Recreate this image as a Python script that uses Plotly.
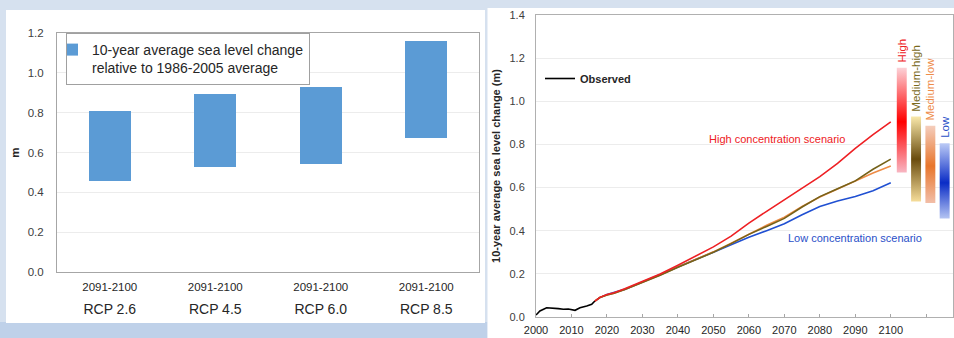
import plotly.graph_objects as go

W, H = 954, 338

# ---------------- data: left panel ----------------
rcp_names = ["RCP 2.6", "RCP 4.5", "RCP 6.0", "RCP 8.5"]
rcp_period = ["2091-2100", "2091-2100", "2091-2100", "2091-2100"]
rcp_low = [0.455, 0.527, 0.541, 0.674]
rcp_high = [0.808, 0.892, 0.929, 1.161]
left_yticks = [0.0, 0.2, 0.4, 0.6, 0.8, 1.0, 1.2]

# ---------------- data: right panel ----------------
obs_years = [2000, 2001.1, 2003, 2004.9, 2006.3, 2007.7, 2009.1, 2011, 2012.4, 2014.3, 2015.7, 2016.6]
obs_vals = [0.009, 0.028, 0.043, 0.042, 0.039, 0.036, 0.037, 0.031, 0.043, 0.051, 0.059, 0.074]

proj_years = [2016.6, 2018, 2020, 2022, 2025, 2030, 2035, 2040, 2045, 2050,
              2055, 2060, 2065, 2070, 2075, 2080, 2085, 2090, 2095, 2100]
low_vals = [0.074, 0.090, 0.104, 0.113, 0.128, 0.162, 0.197, 0.235, 0.267, 0.300,
            0.335, 0.370, 0.400, 0.432, 0.474, 0.512, 0.538, 0.559, 0.585, 0.622]
medlow_vals = [0.074, 0.090, 0.102, 0.110, 0.127, 0.160, 0.195, 0.232, 0.268, 0.302,
               0.342, 0.385, 0.425, 0.463, 0.512, 0.556, 0.593, 0.628, 0.668, 0.700]
medhigh_vals = [0.074, 0.090, 0.102, 0.110, 0.127, 0.160, 0.194, 0.231, 0.265, 0.300,
                0.340, 0.383, 0.420, 0.457, 0.510, 0.558, 0.595, 0.631, 0.685, 0.732]
high_vals = [0.074, 0.091, 0.104, 0.112, 0.131, 0.166, 0.199, 0.240, 0.281, 0.325,
             0.375, 0.435, 0.490, 0.545, 0.597, 0.651, 0.712, 0.782, 0.845, 0.905]

scen_names = ["High", "Medium-high", "Medium-low", "Low"]
scen_lo = [0.670, 0.535, 0.528, 0.457]
scen_hi = [1.156, 0.929, 0.887, 0.806]
scen_mid = [0.905, 0.732, 0.700, 0.622]
right_xticks = [2000, 2010, 2020, 2030, 2040, 2050, 2060, 2070, 2080, 2090, 2100, 2110]
right_xlabels = ["2000", "2010", "2020", "2030", "2040", "2050", "2060", "2070",
                 "2080", "2090", "2100", ""]
right_yticks = [0.0, 0.2, 0.4, 0.6, 0.8, 1.0, 1.2, 1.4]

# ---------------- styles ----------------
FONT = "Liberation Sans, Arial, sans-serif"
BAR_BLUE = "#5b9bd5"
C_HIGH = "#ee2024"
C_MH = "#75621a"
C_ML = "#ee8c46"
C_LOW = "#2050d2"
label_colors = [C_HIGH, "#7a6a1c", "#ee8c4a", "#2a50c8"]
grad_colors = [  # bottom, middle, top
    ("#f8b6c2", "#ff0000", "#fcd2d8"),
    ("#f6dd9a", "#6a4c0e", "#f9e8aa"),
    ("#f2bea8", "#e8762c", "#f5cebd"),
    ("#b4c4f2", "#0a2cc6", "#bccbf6"),
]
range_x0 = 2103.1      # x position of first range bar (years)
range_step = 4.03
range_w = 2.8

fig = go.Figure()

# left: floating bars
cat_text = [f"<span style='font-size:11.5px'>{p}</span><br><span style='font-size:14px'>{n}</span>"
            for p, n in zip(rcp_period, rcp_names)]
fig.add_trace(go.Bar(
    x=list(range(len(rcp_names))), y=[h - l for h, l in zip(rcp_high, rcp_low)], base=rcp_low,
    width=0.4, marker=dict(color=BAR_BLUE, line=dict(width=0)),
    name="10-year average sea level change<br>relative to 1986-2005 average",
    xaxis="x", yaxis="y", legend="legend", showlegend=True, hoverinfo="skip"))

# right: observed + projections
fig.add_trace(go.Scatter(x=obs_years, y=obs_vals, mode="lines", name="<b>Observed</b>",
                         line=dict(color="black", width=1.6), xaxis="x2", yaxis="y2",
                         legend="legend2", showlegend=True, hoverinfo="skip"))
for vals, col, nm in zip([low_vals, medlow_vals, medhigh_vals, high_vals],
                         [C_LOW, C_ML, C_MH, C_HIGH], ["Low", "Medium-low", "Medium-high", "High"]):
    fig.add_trace(go.Scatter(x=proj_years, y=vals, mode="lines", name=nm,
                             line=dict(color=col, width=1.6), xaxis="x2", yaxis="y2",
                             showlegend=False, hoverinfo="skip"))

# right: gradient range bars
for i, (nm, lo, hi, mid) in enumerate(zip(scen_names, scen_lo, scen_hi, scen_mid)):
    cx = range_x0 + i * range_step
    x0, x1 = cx - range_w / 2, cx + range_w / 2
    cb, cm, ct = grad_colors[i]
    f = (mid - lo) / (hi - lo)
    fig.add_trace(go.Scatter(
        x=[x0, x1, x1, x0, x0], y=[lo, lo, hi, hi, lo], mode="lines", fill="toself",
        line=dict(width=0, color="rgba(0,0,0,0)"),
        fillgradient=dict(type="vertical", colorscale=[[0, cb], [f, cm], [1, ct]],
                          start=lo, stop=hi),
        xaxis="x2", yaxis="y2", showlegend=False, hoverinfo="skip"))
    fig.add_annotation(x=cx, y=hi, xref="x2", yref="y2", text=nm, textangle=-90,
                       showarrow=False, xanchor="center", yanchor="bottom", yshift=3,
                       font=dict(family=FONT, size=11.5, color=label_colors[i]))

fig.add_annotation(x=2068, y=0.826, xref="x2", yref="y2", text="High concentration scenario",
                   showarrow=False, font=dict(family=FONT, size=11, color=C_HIGH))
fig.add_annotation(x=2090, y=0.366, xref="x2", yref="y2", text="Low concentration scenario",
                   showarrow=False, font=dict(family=FONT, size=11, color="#2a50c8"))

# background panels
shapes = [
    dict(type="rect", xref="paper", yref="paper", x0=0, x1=487.5 / W, y0=0, y1=16 / H,
         fillcolor="#bfd1e9", line=dict(width=0), layer="below"),
    dict(type="rect", xref="paper", yref="paper", x0=6 / W, x1=485 / W, y0=1 - 323 / H, y1=1 - 10 / H,
         fillcolor="white", line=dict(width=0), layer="below"),
    dict(type="rect", xref="paper", yref="paper", x0=487.5 / W, x1=1, y0=0, y1=1 - 8 / H,
         fillcolor="white", line=dict(width=0), layer="below"),
]

axis_common = dict(showline=True, mirror=True, zeroline=False, automargin=False)
fig.update_layout(
    width=W, height=H, margin=dict(l=0, r=0, t=0, b=0, autoexpand=False),
    paper_bgcolor="#d6e1ef", plot_bgcolor="rgba(0,0,0,0)",
    font=dict(family=FONT, size=11.5, color="#404040"),
    shapes=shapes, bargap=0,
    xaxis=dict(domain=[57 / W, 479 / W], range=[-0.5, 3.5], tickmode="array",
               tickvals=list(range(len(rcp_names))), ticktext=cat_text,
               tickfont=dict(size=17.5, color="#262626"), showgrid=False,
               linecolor="#a6a6a6", ticks="", ticklabelstandoff=-3, anchor="y", **axis_common),
    yaxis=dict(domain=[(H - 272) / H, (H - 33) / H], range=[0, 1.2], tickvals=left_yticks,
               tickformat=".1f", showgrid=True, gridcolor="#ececec", linecolor="#a6a6a6",
               tickfont=dict(size=11.5, color="#404040"), ticklabelstandoff=10,
               title=dict(text="<b>m</b>", font=dict(size=11.5, color="#262626"), standoff=5),
               anchor="x", **axis_common),
    xaxis2=dict(domain=[536 / W, 952.5 / W], range=[2000, 2117.4], tickmode="array",
                tickvals=right_xticks, ticktext=right_xlabels, ticks="inside", ticklen=3,
                tickcolor="#a6a6a6", showgrid=False, linecolor="#b0b0b0",
                tickfont=dict(size=11, color="#262626"), ticklabelstandoff=3,
                anchor="y2", **axis_common),
    yaxis2=dict(domain=[(H - 317) / H, (H - 15) / H], range=[0, 1.4], tickvals=right_yticks,
                tickformat=".1f", showgrid=True, gridcolor="#ececec", linecolor="#b0b0b0",
                tickfont=dict(size=11, color="#404040"), ticklabelstandoff=8,
                title=dict(text="<b>10-year average sea level change (m)</b>",
                           font=dict(size=11, color="#262626"), standoff=6),
                anchor="x2", **axis_common),
    legend=dict(x=66 / W, y=1 - 33 / H, xanchor="left", yanchor="top",
                bgcolor="white", bordercolor="#a0a0a0", borderwidth=1,
                font=dict(size=14, color="#262626"), itemwidth=30, indentation=-15,
                valign="top", tracegroupgap=0),
    legend2=dict(x=540 / W, y=1 - 64 / H, xanchor="left", yanchor="top",
                 bgcolor="rgba(0,0,0,0)", borderwidth=0, itemwidth=30,
                 font=dict(size=11, color="#262626")),
)

fig.write_html("out.html")
